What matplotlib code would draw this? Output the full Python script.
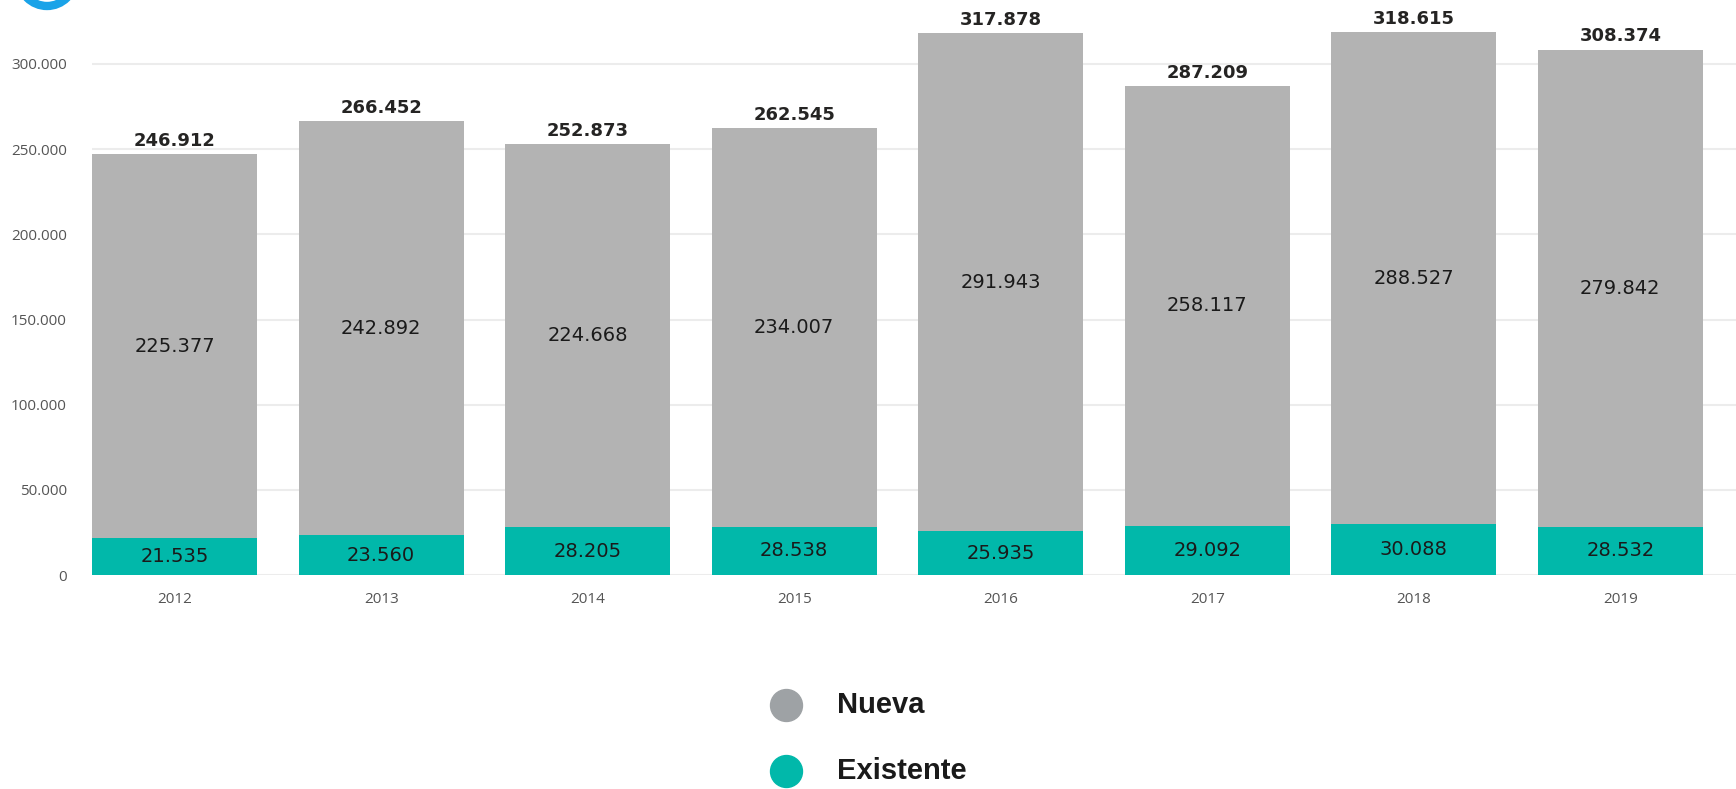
import matplotlib
matplotlib.use("Agg")
import matplotlib.pyplot as plt
from matplotlib.lines import Line2D
from matplotlib.patches import Circle
from matplotlib.transforms import IdentityTransform
from matplotlib.ticker import FuncFormatter
import numpy as np

# data
years = ["2012", "2013", "2014", "2015", "2016", "2017", "2018", "2019"]
nueva = [225377, 242892, 224668, 234007, 291943, 258117, 288527, 279842]
existente = [21535, 23560, 28205, 28538, 25935, 29092, 30088, 28532]
legend_labels = ["Nueva", "Existente"]

GRAY = "#b3b3b3"
TEAL = "#01b8aa"
LEG_GRAY = "#9ea2a5"


def fmt(v):
	return "{:,}".format(int(v)).replace(",", ".")


fig = plt.figure(figsize=(17.36, 7.89), dpi=100)
ax = fig.add_axes([0.053, 0.271, 0.947, 0.729])

x = np.arange(len(years))
totals = [a + b for a, b in zip(nueva, existente)]
ax.bar(x, existente, width=0.8, color=TEAL, zorder=2)
ax.bar(x, nueva, width=0.8, bottom=existente, color=GRAY, zorder=2)

for i in range(len(years)):
	ax.text(x[i], existente[i] / 2, fmt(existente[i]), ha="center", va="center",
		fontsize=14, color="#1a1a1a", family="DejaVu Sans")
	ax.text(x[i], existente[i] + nueva[i] / 2, fmt(nueva[i]), ha="center", va="center",
		fontsize=14, color="#1a1a1a", family="DejaVu Sans")
	ax.annotate(fmt(totals[i]), (x[i], totals[i]), xytext=(0, 3), textcoords="offset points",
		ha="center", va="bottom", fontsize=13, fontweight="bold", color="#252423",
		family="DejaVu Sans")

ax.set_xlim(-0.4, 7.56)
ax.set_ylim(0, 337500)
ax.set_yticks(np.arange(0, 300001, 50000))
ax.yaxis.set_major_formatter(FuncFormatter(lambda v, p: fmt(v)))
ax.set_xticks(x)
ax.set_xticklabels(years)
for s in ax.spines.values():
	s.set_visible(False)
ax.tick_params(length=0, labelsize=11, labelcolor="#555555", pad=10)
for lab in ax.get_xticklabels() + ax.get_yticklabels():
	lab.set_family("Open Sans")
ax.tick_params(axis="x", pad=12)
ax.tick_params(axis="y", pad=18)
ax.grid(axis="y", color="#ececec", linewidth=1.5, zorder=0)
ax.set_axisbelow(True)

# legend drawn by hand below the plot
W, H = 1736.0, 789.0
for lab, col, yy in zip(legend_labels, [LEG_GRAY, TEAL], [705, 771]):
	fig.add_artist(Line2D([786 / W], [1 - yy / H], marker="o", markersize=23,
		color=col, linestyle="none", transform=fig.transFigure))
	fig.text(837 / W, 1 - yy / H, lab, ha="left", va="center", fontsize=21,
		fontweight="bold", family="Liberation Sans", color="#1a1a1a")

# cut-off logo ring at the top left corner
fig.add_artist(Circle((47, H + 22), 28, fill=False, edgecolor="#1aa3e8",
	linewidth=6, transform=IdentityTransform()))

fig.savefig("out.png", dpi=100)
